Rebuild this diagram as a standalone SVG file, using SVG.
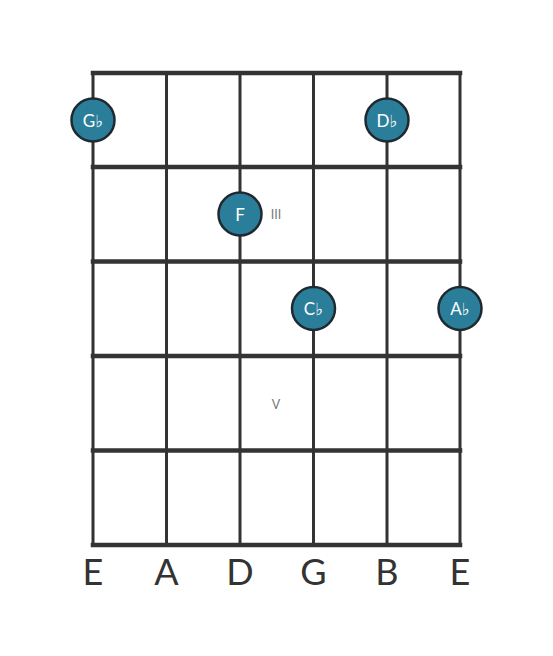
<svg xmlns="http://www.w3.org/2000/svg" width="553" height="656" viewBox="0 0 553 656">
<style>
.fret{stroke:#333;stroke-width:4.5;stroke-linecap:square}
.str{stroke:#333;stroke-width:3}
.dot{fill:#2a7e99;stroke:#1f2a30;stroke-width:2.5}
.dt{fill:#fff;font-family:Lato,"Open Sans","DejaVu Sans",sans-serif;font-size:17px;text-anchor:middle;dominant-baseline:central}
.rn{fill:#777;font-family:Lato,"Open Sans",sans-serif;font-size:12.5px;text-anchor:middle;dominant-baseline:central}
.sl{fill:#333;font-family:Lato,"Open Sans",sans-serif;font-size:36px;text-anchor:middle}
</style>
<rect width="553" height="656" fill="#fff"/>
<g id="connectors">
<line class="str" x1="93" y1="73" x2="93" y2="545"/>
<line class="str" x1="166.5" y1="73" x2="166.5" y2="545"/>
<line class="str" x1="240" y1="73" x2="240" y2="545"/>
<line class="str" x1="313.5" y1="73" x2="313.5" y2="545"/>
<line class="str" x1="387" y1="73" x2="387" y2="545"/>
<line class="str" x1="460" y1="73" x2="460" y2="545"/>
<line class="fret" x1="93" y1="73" x2="460" y2="73"/>
<line class="fret" x1="93" y1="167" x2="460" y2="167"/>
<line class="fret" x1="93" y1="261.5" x2="460" y2="261.5"/>
<line class="fret" x1="93" y1="356" x2="460" y2="356"/>
<line class="fret" x1="93" y1="450.5" x2="460" y2="450.5"/>
<line class="fret" x1="93" y1="545" x2="460" y2="545"/>
</g>
<g id="markers">
<text class="rn" x="276" y="214.5">III</text>
<text class="rn" x="276" y="404">V</text>
</g>
<g id="n-gb"><circle class="dot" cx="93" cy="120" r="21.5"/><text class="dt" x="93" y="120">G♭</text></g>
<g id="n-db"><circle class="dot" cx="387" cy="120" r="21.5"/><text class="dt" x="387" y="120">D♭</text></g>
<g id="n-f"><circle class="dot" cx="240" cy="214" r="21.5"/><text class="dt" x="240" y="214">F</text></g>
<g id="n-cb"><circle class="dot" cx="313.5" cy="308.5" r="21.5"/><text class="dt" x="313.5" y="308.5">C♭</text></g>
<g id="n-ab"><circle class="dot" cx="460" cy="308.5" r="21.5"/><text class="dt" x="460" y="308.5">A♭</text></g>
<g id="labels">
<text class="sl" x="93" y="585">E</text>
<text class="sl" x="166.5" y="585">A</text>
<text class="sl" x="240" y="585">D</text>
<text class="sl" x="313.5" y="585">G</text>
<text class="sl" x="387" y="585">B</text>
<text class="sl" x="460" y="585">E</text>
</g>
</svg>
